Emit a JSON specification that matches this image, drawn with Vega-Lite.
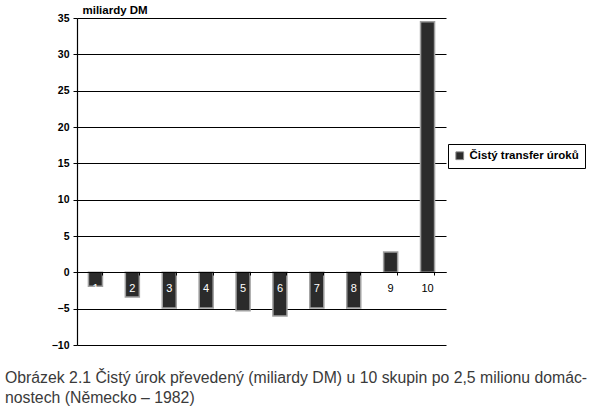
{
  "$schema": "https://vega.github.io/schema/vega-lite/v6.json",
  "width": 369,
  "height": 327,
  "autosize": "none",
  "padding": {"left": 77, "top": 18, "right": 152, "bottom": 68},
  "background": "white",
  "config": {
    "font": "Liberation Sans",
    "view": {"stroke": null},
    "axisY": {
      "values": [-10, -5, 0, 5, 10, 15, 20, 25, 30, 35],
      "labelOverlap": false,
      "labelFontSize": 10.5,
      "labelFontWeight": "bold",
      "labelColor": "black",
      "labelPadding": 4,
      "tickSize": 4,
      "tickColor": "black",
      "domainColor": "black",
      "domainWidth": 1.2,
      "grid": true,
      "gridColor": "black",
      "gridWidth": 1,
      "gridOpacity": 1
    }
  },
  "title": {
    "text": ["Obrázek 2.1 Čistý úrok převedený (miliardy DM) u 10 skupin po 2,5 milionu domác-", "nostech (Německo – 1982)"],
    "orient": "bottom",
    "anchor": "start",
    "frame": "group",
    "dx": -72,
    "offset": 20,
    "fontSize": 15.8,
    "fontWeight": "normal",
    "color": "#3a3a3a",
    "lineHeight": 20,
    "font": "Liberation Sans"
  },
  "data": {
    "values": [
      {"group": 1, "value": -1.9, "series": "Čistý transfer úroků"},
      {"group": 2, "value": -3.4, "series": "Čistý transfer úroků"},
      {"group": 3, "value": -4.9, "series": "Čistý transfer úroků"},
      {"group": 4, "value": -4.9, "series": "Čistý transfer úroků"},
      {"group": 5, "value": -5.3, "series": "Čistý transfer úroků"},
      {"group": 6, "value": -6.0, "series": "Čistý transfer úroků"},
      {"group": 7, "value": -4.9, "series": "Čistý transfer úroků"},
      {"group": 8, "value": -4.9, "series": "Čistý transfer úroků"},
      {"group": 9, "value": 2.8, "series": "Čistý transfer úroků"},
      {"group": 10, "value": 34.5, "series": "Čistý transfer úroků"}
    ]
  },
  "encoding": {
    "x": {
      "field": "group",
      "type": "ordinal",
      "scale": {"paddingInner": 0.62, "paddingOuter": 0.31},
      "axis": {
        "title": null,
        "labels": false,
        "offset": -73,
        "bandPosition": 1,
        "domainColor": "black",
        "domainWidth": 1.2,
        "tickColor": "black",
        "tickSize": 3,
        "grid": false,
        "zindex": 1
      }
    }
  },
  "layer": [
    {
      "mark": {"type": "bar", "stroke": "#a0a0a0", "strokeWidth": 1.5},
      "encoding": {
        "y": {
          "field": "value",
          "type": "quantitative",
          "scale": {"domain": [-10, 35], "nice": false, "zero": false},
          "axis": {
            "values": [-10, -5, 0, 5, 10, 15, 20, 25, 30, 35],
            "title": "miliardy DM",
            "titleAngle": 0,
            "titleAlign": "left",
            "titleBaseline": "bottom",
            "titleX": 5,
            "titleY": -3,
            "titleFontSize": 11.5,
            "titleFontWeight": "bold",
            "titleColor": "black"
          }
        },
        "color": {
          "field": "series",
          "type": "nominal",
          "scale": {"range": ["#2b2b2b"]},
          "legend": {
            "title": null,
            "orient": "none",
            "legendX": 371,
            "legendY": 126,
            "symbolType": "square",
            "symbolSize": 60,
            "symbolStrokeColor": "#888",
            "symbolStrokeWidth": 1,
            "labelFontSize": 11.5,
            "labelFontWeight": "bold",
            "labelColor": "black",
            "labelFont": "Liberation Sans",
            "strokeColor": "black",
            "fillColor": "white",
            "padding": 6,
            "labelLimit": 200
          }
        }
      }
    },
    {
      "mark": {"type": "text", "fontSize": 11, "baseline": "middle", "align": "center"},
      "encoding": {
        "y": {
          "datum": -2.3,
          "type": "quantitative",
          "axis": {
            "values": [-10, -5, 0, 5, 10, 15, 20, 25, 30, 35],
            "title": "miliardy DM",
            "titleAngle": 0,
            "titleAlign": "left",
            "titleBaseline": "bottom",
            "titleX": 5,
            "titleY": -3,
            "titleFontSize": 11.5,
            "titleFontWeight": "bold",
            "titleColor": "black"
          }
        },
        "text": {"field": "group", "type": "ordinal"},
        "color": {"condition": {"test": "datum.group <= 8", "value": "white"}, "value": "black"}
      }
    }
  ]
}
